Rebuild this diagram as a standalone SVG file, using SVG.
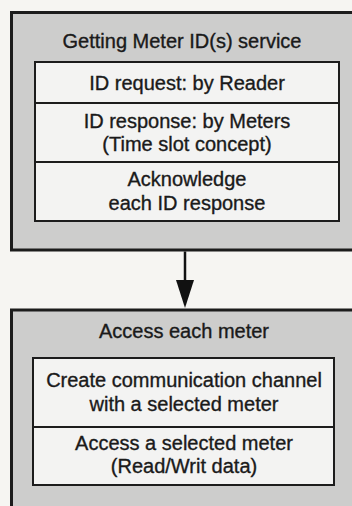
<svg xmlns="http://www.w3.org/2000/svg" width="352" height="506" viewBox="0 0 352 506">
  <defs>
    <style>
      .panel { fill: #cdcdcc; stroke: #1c1c1c; stroke-width: 3; }
      .step { fill: #f3f3f2; stroke: #1c1c1c; stroke-width: 2; }
      .divider { stroke: #1c1c1c; stroke-width: 2; }
      text { font-family: "Liberation Sans", Arial, sans-serif; font-size: 20px; fill: #1a1a1a; stroke: #1a1a1a; stroke-width: 0.35; text-anchor: middle; }
      .flow { stroke: #111; stroke-width: 2.5; fill: none; }
    </style>
  </defs>

  <rect width="352" height="506" fill="#f6f5f2"/>

  <!-- Getting Meter ID(s) service -->
  <g id="getting-ids">
    <rect class="panel" x="11.5" y="12.5" width="360" height="237.5"/>
    <text x="182" y="48">Getting Meter ID(s) service</text>
    <rect class="step" x="35" y="62" width="304" height="159"/>
    <line class="divider" x1="35" y1="103" x2="339" y2="103"/>
    <line class="divider" x1="35" y1="162" x2="339" y2="162"/>
    <text x="187" y="90">ID request: by Reader</text>
    <text x="187" y="128">ID response: by Meters</text>
    <text x="187" y="151">(Time slot concept)</text>
    <text x="187" y="186">Acknowledge</text>
    <text x="187" y="210">each ID response</text>
  </g>

  <!-- Access each meter -->
  <g id="access-meter">
    <rect class="panel" x="11.5" y="310" width="360" height="220"/>
    <text x="184" y="338">Access each meter</text>
    <rect class="step" x="33" y="358" width="301" height="127"/>
    <line class="divider" x1="33" y1="427" x2="334" y2="427"/>
    <text x="184" y="387">Create communication channel</text>
    <text x="184" y="411">with a selected meter</text>
    <text x="184" y="450">Access a selected meter</text>
    <text x="184" y="473">(Read/Writ data)</text>
  </g>

  <!-- connectors: shaft plus filled head -->
  <g id="connectors">
    <line class="flow" x1="185" y1="251.5" x2="185" y2="282"/>
    <path d="M176,280 L194,280 L185,308 Z" fill="#111"/>
  </g>
</svg>
